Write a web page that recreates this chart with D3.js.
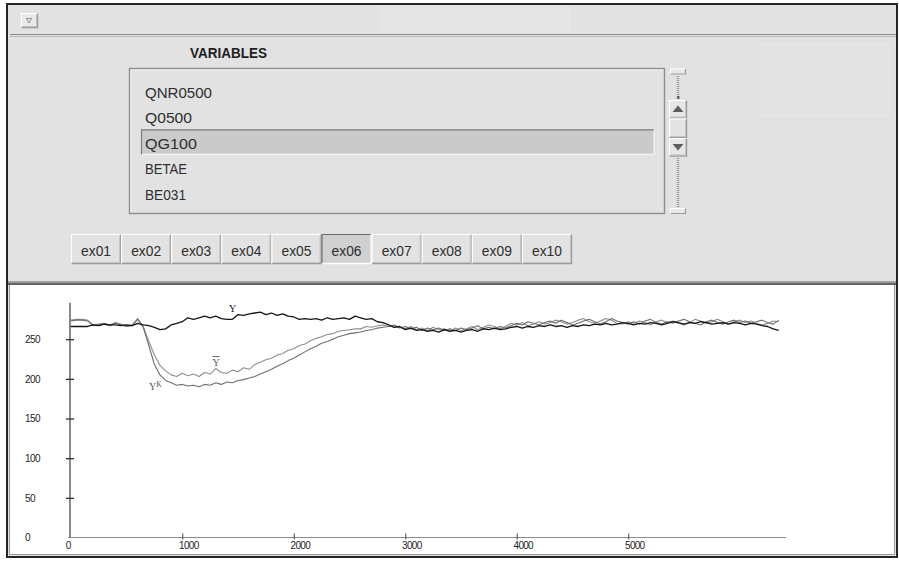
<!DOCTYPE html>
<html>
<head>
<meta charset="utf-8">
<script src="https://cdn.jsdelivr.net/npm/d3@7"></script>
<style>
  html, body { margin: 0; padding: 0; background: #fff; }
  svg { display: block; }
</style>
</head>
<body>
<svg id="win" width="899" height="561"></svg>
<script>
// ---- panel contents ----
const variables = ["QNR0500", "Q0500", "QG100", "BETAE", "BE031"];
const selectedVariable = "QG100";
const experiments = ["ex01", "ex02", "ex03", "ex04", "ex05", "ex06", "ex07", "ex08", "ex09", "ex10"];
const selectedExperiment = "ex06";

// ---- simulated paths, one value every timeStep periods ----
const timeStep = 50;
const seriesY = [
  266, 266, 266, 266, 268, 267, 269, 268, 268, 267,
  268, 267, 270, 268, 267, 265, 262, 263, 268, 270,
  272, 277, 275, 277, 279, 277, 279, 276, 275, 275,
  281, 280, 282, 283, 284, 281, 283, 280, 282, 279,
  278, 275, 276, 275, 276, 274, 277, 275, 276, 277,
  275, 279, 277, 275, 276, 272, 271, 268, 265, 266,
  262, 264, 261, 262, 260, 261, 259, 262, 260, 261,
  259, 261, 262, 260, 263, 262, 264, 262, 263, 265,
  266, 264, 266, 265, 267, 266, 268, 266, 267, 265,
  267, 266, 268, 267, 269, 268, 270, 268, 269, 271,
  270, 268, 270, 269, 271, 270, 268, 270, 272, 271,
  269, 271, 270, 272, 271, 269, 270, 271, 269, 271,
  270, 268, 270, 269, 267, 266, 263, 261
];
const seriesYBar = [
  274, 275, 275, 274, 268, 269, 270, 268, 271, 269,
  267, 268, 276, 266, 247, 230, 217, 210, 205, 203,
  207, 204, 206, 203, 208, 206, 213, 208, 207, 211,
  209, 214, 212, 218, 221, 224, 226, 230, 232, 236,
  238, 242, 244, 248, 251, 253, 256, 257, 260, 261,
  262, 263, 263, 266, 265, 267, 268, 266, 268, 265,
  263, 266, 262, 264, 261, 265, 262, 263, 260, 264,
  261, 263, 266, 262, 265, 268, 266, 263, 266, 270,
  268, 271, 267, 269, 272, 269, 271, 274, 272, 269,
  271, 274, 276, 272, 270, 273, 276, 274, 270, 269,
  272, 270, 273, 271, 268, 272, 274, 271, 273, 270,
  268, 271, 275, 273, 270, 272, 275, 272, 269, 272,
  274, 271, 273, 270, 268, 270, 273, 272
];
const seriesYStar = [
  273, 274, 274, 273, 267, 268, 269, 267, 270, 268,
  266, 267, 275, 265, 242, 218, 205, 198, 195, 192,
  193, 191, 192, 190, 193, 192, 195, 193, 196, 195,
  198, 199, 201, 203, 206, 209, 212, 216, 219, 223,
  226, 230, 234, 238, 241, 245, 247, 250, 253, 255,
  257, 258, 259, 261, 262, 264, 265, 266, 267, 264,
  266, 263, 265, 261, 264, 262, 264, 261, 263, 261,
  264, 262, 264, 267, 263, 265, 263, 266, 264, 267,
  270, 268, 272, 270, 268, 271, 273, 270, 274, 271,
  268, 270, 273, 275, 272, 269, 272, 276, 273, 271,
  269, 272, 269, 273, 275, 271, 269, 272, 270, 273,
  275, 272, 270, 268, 272, 274, 271, 269, 272, 274,
  271, 273, 270, 272, 274, 271, 269, 274
];

const yTickValues = [0, 50, 100, 150, 200, 250];
const xTickValues = [0, 1000, 2000, 3000, 4000, 5000];

// ---- drawing ----
const svg = d3.select("#win");
const FACE = "#e2e2e2";
const LIGHT = "#ffffff";
const SHADOW = "#9c9c9c";
const DARK = "#6c6c6c";
const TEXT = "#2e2e2e";
const UI_FONT = "'Liberation Sans', Arial, sans-serif";

// window background and frame
svg.append("rect").attr("x", 7).attr("y", 4).attr("width", 890).attr("height", 553).attr("fill", FACE);
svg.append("rect").attr("x", 380).attr("y", 6).attr("width", 190).attr("height", 27).attr("fill", "#e5e5e5");
svg.append("rect").attr("x", 758).attr("y", 41).attr("width", 134).attr("height", 78)
  .attr("fill", "#e4e4e4").attr("stroke", "#dddddd");

// toolbar separator
svg.append("line").attr("x1", 10).attr("x2", 897).attr("y1", 34.5).attr("y2", 34.5).attr("stroke", "#8a8a8a").attr("stroke-width", 1.2);
svg.append("line").attr("x1", 10).attr("x2", 897).attr("y1", 36.5).attr("y2", 36.5).attr("stroke", "#b8b8b8");

function bevel(g, x, y, w, h, pressed, face) {
  g.append("rect").attr("x", x).attr("y", y).attr("width", w).attr("height", h).attr("fill", face || FACE);
  const tl = pressed ? DARK : LIGHT;
  const br = pressed ? LIGHT : SHADOW;
  g.append("path").attr("d", `M${x + 0.5},${y + h - 0.5}V${y + 0.5}H${x + w - 0.5}`)
    .attr("fill", "none").attr("stroke", tl).attr("stroke-width", 1.2);
  g.append("path").attr("d", `M${x + 0.5},${y + h - 0.5}H${x + w - 0.5}V${y + 0.5}`)
    .attr("fill", "none").attr("stroke", br).attr("stroke-width", 1.4);
  if (!pressed) {
    g.append("path").attr("d", `M${x + 1.5},${y + h - 1.5}H${x + w - 1.5}V${y + 1.5}`)
      .attr("fill", "none").attr("stroke", "#c4c4c4").attr("stroke-width", 1);
  }
}

// toolbar menu button
const tb = svg.append("g");
bevel(tb, 21, 13, 17, 15, false, "#e9e9e9");
tb.append("path").attr("d", "M26,18.5H32M26.5,18.5L29,23L31.5,18.5")
  .attr("fill", "none").attr("stroke", "#8a8a8a").attr("stroke-width", 0.9);

// variables list
svg.append("text").attr("x", 190).attr("y", 58.3)
  .attr("font-family", UI_FONT).attr("font-weight", "bold").attr("font-size", 14)
  .attr("textLength", 77).attr("lengthAdjust", "spacingAndGlyphs")
  .attr("fill", "#1e1e1e").text("VARIABLES");

svg.append("rect").attr("x", 129.5).attr("y", 68.5).attr("width", 535).attr("height", 145)
  .attr("fill", FACE).attr("stroke", "#8e8e8e").attr("stroke-width", 1.4);
svg.append("path").attr("d", "M131,212V70H663").attr("fill", "none").attr("stroke", "#f2f2f2").attr("stroke-width", 0.8);

const itemWidths = { QNR0500: 67, Q0500: 47, QG100: 52, BETAE: 42, BE031: 41 };
const listTop = 98;
const rowGap = 25.4;
variables.forEach((v, i) => {
  const base = listTop + i * rowGap;
  if (v === selectedVariable) {
    svg.append("rect").attr("x", 141).attr("y", base - 19.5).attr("width", 513).attr("height", 25)
      .attr("fill", "#cacaca");
    svg.append("path").attr("d", `M141.5,${base + 5.5}V${base - 19}H654`)
      .attr("fill", "none").attr("stroke", "#7c7c7c").attr("stroke-width", 1.2);
    svg.append("path").attr("d", `M142,${base + 5.5}H654V${base - 19}`)
      .attr("fill", "none").attr("stroke", "#f4f4f4").attr("stroke-width", 1.2);
  }
  svg.append("text").attr("x", 145).attr("y", base)
    .attr("font-family", UI_FONT).attr("font-size", 14)
    .attr("textLength", itemWidths[v]).attr("lengthAdjust", "spacingAndGlyphs")
    .attr("fill", TEXT).text(v);
});

// scrollbar
const sb = svg.append("g");
function cap(y) {
  sb.append("rect").attr("x", 670).attr("y", y).attr("width", 16).attr("height", 6).attr("fill", "#e8e8e8");
  sb.append("path").attr("d", `M670.5,${y + 5.5}V${y + 0.5}H685.5`).attr("fill", "none").attr("stroke", LIGHT);
  sb.append("path").attr("d", `M670.5,${y + 5.5}H685.5V${y + 0.5}`).attr("fill", "none").attr("stroke", SHADOW).attr("stroke-width", 1.2);
}
cap(68.5);
cap(208);
sb.append("line").attr("x1", 678).attr("x2", 678).attr("y1", 76).attr("y2", 98)
  .attr("stroke", "#9a9a9a").attr("stroke-width", 2.5).attr("stroke-dasharray", "1 1");
sb.append("rect").attr("x", 677).attr("y", 96).attr("width", 2.5).attr("height", 3).attr("fill", "#666");
sb.append("line").attr("x1", 678).attr("x2", 678).attr("y1", 158).attr("y2", 207)
  .attr("stroke", "#9a9a9a").attr("stroke-width", 2.5).attr("stroke-dasharray", "1 1");
bevel(sb, 669, 100, 18, 18.5, false, "#e6e6e6");
bevel(sb, 669, 118.5, 18, 19.5, false, "#e3e3e3");
bevel(sb, 669, 138, 18, 18.5, false, "#e6e6e6");
sb.append("path").attr("d", "M672.5,112L678,105.5L683.5,112Z").attr("fill", "#5e5e5e");
sb.append("path").attr("d", "M672.5,144L678,150.5L683.5,144Z").attr("fill", "#5e5e5e");

// experiment buttons
const btnEdges = [71, 120.5, 170.5, 221, 271, 321, 371, 421, 471.5, 522, 572];
const btnX = d3.scaleBand().domain(experiments).range([btnEdges[0], btnEdges[btnEdges.length - 1]]).padding(0);
experiments.forEach(e => {
  const g = svg.append("g");
  const x = btnX(e), w = btnX.bandwidth();
  const pressed = e === selectedExperiment;
  bevel(g, x, 234, w, 30, pressed, pressed ? "#d0d0d0" : "#e2e2e2");
  g.append("text").attr("x", x + w / 2).attr("y", 256.3).attr("text-anchor", "middle")
    .attr("font-family", UI_FONT).attr("font-size", 14)
    .attr("textLength", 30).attr("lengthAdjust", "spacingAndGlyphs")
    .attr("fill", TEXT).text(e);
});

// divider above the graph pane
svg.append("line").attr("x1", 7).attr("x2", 897).attr("y1", 282).attr("y2", 282).attr("stroke", "#8a8a8a").attr("stroke-width", 1.5);
svg.append("line").attr("x1", 7).attr("x2", 897).attr("y1", 284).attr("y2", 284).attr("stroke", "#3a3a3a").attr("stroke-width", 1.5);

// graph pane
svg.append("rect").attr("x", 10).attr("y", 285).attr("width", 884).attr("height", 270).attr("fill", "#fff");
svg.append("path").attr("d", "M9.5,285V554.5H894.5V285").attr("fill", "none").attr("stroke", "#9a9a9a").attr("stroke-width", 1);

// outer window frame
svg.append("rect").attr("x", 7).attr("y", 4).attr("width", 890).attr("height", 553)
  .attr("fill", "none").attr("stroke", "#262626").attr("stroke-width", 2);

// ---- chart ----
const x = d3.scaleLinear().domain([0, 6415]).range([70.8, 786]);
const y = d3.scaleLinear().domain([0, 296]).range([537.5, 302.7]);

const chart = svg.append("g");

const line = d3.line()
  .x((d, i) => x(i * timeStep))
  .y(d => y(d));

chart.append("path").datum(seriesYBar).attr("d", line)
  .attr("fill", "none").attr("stroke", "#8e8e8e").attr("stroke-width", 1.1).attr("stroke-linejoin", "round");
chart.append("path").datum(seriesYStar).attr("d", line)
  .attr("fill", "none").attr("stroke", "#6e6e6e").attr("stroke-width", 1.1).attr("stroke-linejoin", "round");
chart.append("path").datum(seriesY).attr("d", line)
  .attr("fill", "none").attr("stroke", "#151515").attr("stroke-width", 1.3).attr("stroke-linejoin", "round");

// y axis
const yAxis = chart.append("g").attr("transform", `translate(${x(0) - 0.8},0)`)
  .call(d3.axisLeft(y).tickValues(yTickValues).tickFormat(d3.format("d")).tickSizeOuter(0).tickSizeInner(4));
yAxis.select(".domain").attr("stroke", "#4a4a4a").attr("stroke-width", 1.3)
  .attr("d", `M0,${y(0)}V${y.range()[1]}`);
yAxis.selectAll(".tick line").attr("x1", -4).attr("x2", 4).attr("stroke", "#333").attr("stroke-width", 1.3)
  .filter(d => d === 0).remove();
yAxis.selectAll(".tick text")
  .attr("x", -45).attr("text-anchor", "start")
  .attr("font-family", "'Liberation Sans', Arial, sans-serif").attr("font-size", 10)
  .attr("letter-spacing", -0.6).attr("fill", "#222");

// x axis
const xAxis = chart.append("g").attr("transform", `translate(0,${y(0)})`)
  .call(d3.axisBottom(x).tickValues(xTickValues).tickFormat(d3.format("d")).tickSizeOuter(0).tickSizeInner(3));
xAxis.select(".domain").attr("stroke", "#8c8c8c").attr("stroke-width", 1.2)
  .attr("d", `M68,0H786`);
xAxis.selectAll(".tick line").attr("y1", -4).attr("y2", 2).attr("stroke", "#444")
  .filter(d => d === 0).remove();
xAxis.selectAll(".tick text")
  .attr("y", 3.9)
  .attr("dx", d => (d === 0 ? -3 : 6))
  .attr("font-family", "'Liberation Sans', Arial, sans-serif").attr("font-size", 10)
  .attr("letter-spacing", -0.7).attr("fill", "#222");

// series names beside the curves
const SERIF = "'Liberation Serif', 'DejaVu Serif', serif";
chart.append("text").attr("x", 232.5).attr("y", 311.5).attr("text-anchor", "middle")
  .attr("font-family", SERIF).attr("font-size", 10).attr("fill", "#111").text("Y");
chart.append("text").attr("x", 216).attr("y", 365.5).attr("text-anchor", "middle")
  .attr("font-family", SERIF).attr("font-size", 10).attr("fill", "#555").text("Y");
chart.append("line").attr("x1", 212.5).attr("x2", 219.5).attr("y1", 356.5).attr("y2", 356.5)
  .attr("stroke", "#555").attr("stroke-width", 0.9);
const ystar = chart.append("text").attr("x", 149).attr("y", 389.5)
  .attr("font-family", SERIF).attr("font-size", 10).attr("fill", "#555");
ystar.append("tspan").text("Y");
ystar.append("tspan").attr("font-size", 7.5).attr("dy", -3).text("K");
</script>
</body>
</html>
